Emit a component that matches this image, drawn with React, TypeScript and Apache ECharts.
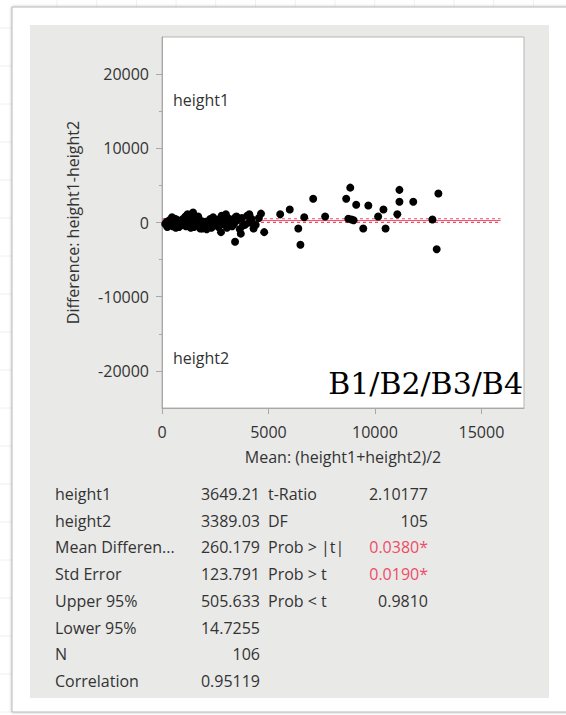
import React, { useEffect, useRef } from "react";
import * as echarts from "echarts";

// [mean of the pair, difference height1-height2]
const spreadPoints: [number, number][] = [
  [8840, 4700], [8650, 3200], [9120, 2400], [9690, 2300], [10400, 1750], [10150, 800],
  [8900, 400], [9000, 300], [9450, -800], [10500, -800], [11050, 1100], [11150, 2800],
  [11150, 4400], [11800, 2800], [12980, 3900], [12700, 400], [12900, -3600], [8750, 500],
  [7100, 3200], [6000, 1750], [5550, 1100], [4650, 1200], [4800, -1300], [6680, 700],
  [6400, -800], [6500, -3000], [7660, 800], [3430, -2600], [3700, -1500], [2770, -1300],
  [4300, -800], [4100, 1100], [3500, 800], [3000, 1100], [2400, 700], [3300, -500],
  [2600, -400], [1460, 1350], [1200, 1100], [470, 700], [1800, -800], [3800, -400], [4100, 0],
];
const clusterPoints: [number, number][] = [
  [150, -200], [220, 100], [300, -400], [350, 300], [420, -100], [500, -500], [560, 200],
  [620, -300], [680, 400], [750, -50], [800, -600], [870, 250], [930, -350], [1000, 500],
  [1050, -150], [1120, -500], [1180, 300], [1250, -250], [1300, 600], [1380, -400],
  [1420, 150], [1500, -600], [1560, 400], [1620, -100], [1700, 800], [1750, -300],
  [1850, 200], [1950, -500], [2050, 100], [2150, -250], [2250, 450], [2320, -700],
  [2450, -100], [2550, 300], [2650, -600], [2720, 500], [2850, -200], [2950, 200],
  [3050, -700], [3150, 500], [3250, 150], [3380, -200], [3550, 300], [3650, -900],
  [3750, 600], [3900, -300], [4000, 900], [4200, 500], [4400, -300], [4550, 600],
  [250, -600], [650, -700], [950, 50], [1350, -700], [1650, 300], [2100, -900],
  [2400, -300], [2800, 900], [3100, -400], [3450, 700], [600, 500], [1100, 800], [1900, -800],
];

const meanDifference = 260.179;
const upper95 = 505.633;
const lower95 = 14.7255;
const refLineX = [0, 15900];

const yMajorTicks = [-20000, -10000, 0, 10000, 20000];
const yMinorTicks = [-15000, -5000, 5000, 15000];
const xTicks = [0, 5000, 10000, 15000];

const statLabels = ["height1", "height2", "Mean Differen...", "Std Error", "Upper 95%", "Lower 95%", "N", "Correlation"];
const statValues = ["3649.21", "3389.03", "260.179", "123.791", "505.633", "14.7255", "106", "0.95119"];
const testLabels = ["t-Ratio", "DF", "Prob > |t|", "Prob > t", "Prob < t"];
const testValues = ["2.10177", "105", "0.0380*", "0.0190*", "0.9810"];
const testSignificant = [false, false, true, true, false];

const FONT = "'Open Sans', 'Noto Sans', sans-serif";
const TEXT = "#333333";
const AXIS = "#a8a8a8";
const RED = "#ee4d66";
const FS = 16;

export default function App() {
  const ref = useRef<HTMLDivElement>(null);
  useEffect(() => {
    if (!ref.current) return;
    const chart = echarts.init(ref.current, undefined, { renderer: "svg" });

    const graphics: any[] = [];
    for (let i = 0; i < 14; i++) {
      graphics.push({ type: "line", z: -20, shape: { x1: 57 + i * 39.7, y1: 0, x2: 57 + i * 39.7, y2: 7 }, style: { stroke: "#f0f0f0", lineWidth: 1 } });
    }
    for (let i = 0; i < 19; i++) {
      graphics.push({ type: "line", z: -20, shape: { x1: 0, y1: 28 + i * 38, x2: 12, y2: 28 + i * 38 }, style: { stroke: "#f0f0f0", lineWidth: 1 } });
    }
    graphics.push({ type: "rect", z: -15, shape: { x: 12, y: 7, width: 580, height: 705 }, style: { fill: "#ffffff", stroke: "#b8b8b8", lineWidth: 1, shadowColor: "rgba(0,0,0,0.25)", shadowBlur: 3 } });
    graphics.push({ type: "rect", z: -14, shape: { x: 30, y: 25, width: 519, height: 673 }, style: { fill: "#e9e9e8" } });

    graphics.push({ type: "text", z: 10, x: 173, y: 100, style: { text: "height1", fill: TEXT, font: `${FS}px ${FONT}`, align: "left", verticalAlign: "middle" } });
    graphics.push({ type: "text", z: 10, x: 173, y: 358, style: { text: "height2", fill: TEXT, font: `${FS}px ${FONT}`, align: "left", verticalAlign: "middle" } });
    graphics.push({ type: "text", z: 10, x: 523, y: 383, style: { text: "B1/B2/B3/B4", fill: "#000", font: `30px 'DejaVu Serif', serif`, align: "right", verticalAlign: "middle" } });

    const rowY0 = 494;
    const rowH = 26.7;
    statLabels.forEach((l, i) => {
      graphics.push({ type: "text", x: 55, y: rowY0 + i * rowH, style: { text: l, fill: TEXT, font: `${FS}px ${FONT}`, align: "left", verticalAlign: "middle" } });
      graphics.push({ type: "text", x: 260, y: rowY0 + i * rowH, style: { text: statValues[i], fill: TEXT, font: `${FS}px ${FONT}`, align: "right", verticalAlign: "middle" } });
    });
    testLabels.forEach((l, i) => {
      graphics.push({ type: "text", x: 268, y: rowY0 + i * rowH, style: { text: l, fill: TEXT, font: `${FS}px ${FONT}`, align: "left", verticalAlign: "middle" } });
      graphics.push({ type: "text", x: 428, y: rowY0 + i * rowH, style: { text: testValues[i], fill: testSignificant[i] ? RED : TEXT, font: `${FS}px ${FONT}`, align: "right", verticalAlign: "middle" } });
    });

    const refLine = (v: number, dash: any, offset: number, width: number) => ({
      type: "line",
      data: refLineX.map((x) => [x, v]),
      symbol: "none",
      lineStyle: { color: RED, width, type: dash, dashOffset: offset },
      z: 3,
      silent: true,
    });

    const plain = (v: number) => String(v);

    chart.setOption({
      animation: false,
      textStyle: { fontFamily: FONT },
      grid: { left: 162, top: 37, right: 42, bottom: 307, show: true, backgroundColor: "#ffffff", borderColor: "#b5b5b5", borderWidth: 1 },
      xAxis: {
        type: "value",
        min: 0,
        max: 17000,
        name: "Mean: (height1+height2)/2",
        nameLocation: "middle",
        nameGap: 41,
        nameTextStyle: { color: TEXT, fontSize: FS, fontFamily: FONT },
        splitLine: { show: false },
        axisLine: { show: true, onZero: false, lineStyle: { color: AXIS } },
        axisTick: { show: true, customValues: xTicks, length: 6, lineStyle: { color: AXIS } },
        axisLabel: { customValues: xTicks, formatter: plain, color: TEXT, fontSize: FS, fontFamily: FONT, margin: 16 },
      },
      yAxis: [
        {
          type: "value",
          min: -25000,
          max: 25000,
          name: "Difference: height1-height2",
          nameLocation: "middle",
          nameGap: 81,
          nameTextStyle: { color: TEXT, fontSize: FS, fontFamily: FONT },
          splitLine: { show: false },
          axisLine: { show: true, onZero: false, lineStyle: { color: AXIS } },
          axisTick: { show: true, customValues: yMajorTicks, length: 6, lineStyle: { color: AXIS } },
          axisLabel: { customValues: yMajorTicks, formatter: plain, color: TEXT, fontSize: FS, fontFamily: FONT, margin: 13 },
        },
        {
          type: "value",
          position: "left",
          offset: 0,
          min: -25000,
          max: 25000,
          splitLine: { show: false },
          axisLine: { show: false, onZero: false },
          axisTick: { show: true, customValues: yMinorTicks, length: 3, lineStyle: { color: AXIS } },
          axisLabel: { show: false },
        },
      ],
      graphic: graphics,
      series: [
        refLine(upper95, [3, 3], 0, 1.2),
        refLine(meanDifference, "solid", 0, 1),
        refLine(lower95, [3, 3], 3, 1.2),
        {
          type: "scatter",
          data: [...clusterPoints, ...spreadPoints],
          symbolSize: 8,
          itemStyle: { color: "#000000", opacity: 1 },
          z: 4,
        },
      ],
    });
    return () => chart.dispose();
  }, []);
  return <div ref={ref} style={{ position: "fixed", left: 0, top: 0, width: 566, height: 715, background: "#ffffff" }} />;
}
